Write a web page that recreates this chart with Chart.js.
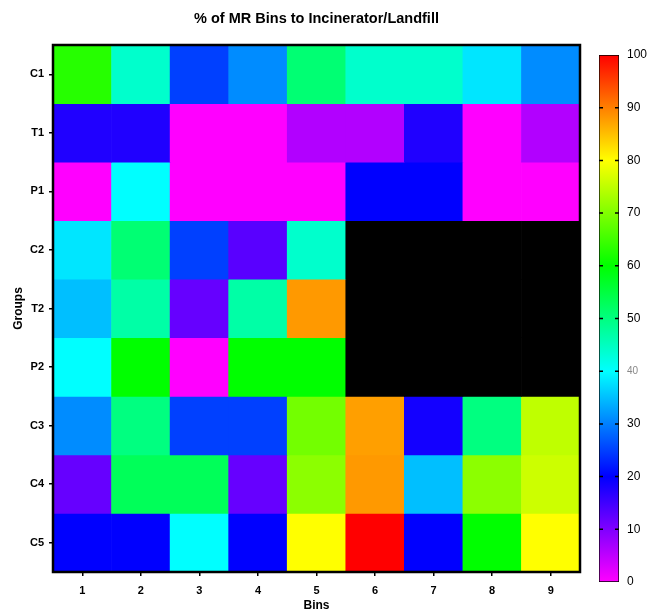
<!DOCTYPE html>
<html>
<head>
<meta charset="utf-8">
<script src="https://cdn.jsdelivr.net/npm/chart.js@4"></script>
<style>
  body { margin: 0; background: #fff; }
  #wrap { position: relative; width: 649px; height: 612px; }
  #heat { position: absolute; left: 0; top: 0; }
  #scale { position: absolute; left: 590px; top: 0; }
</style>
</head>
<body>
<div id="wrap">
  <canvas id="heat" width="633" height="612"></canvas>
  <canvas id="scale" width="59" height="612"></canvas>
</div>
<script>
const bins = ["1", "2", "3", "4", "5", "6", "7", "8", "9"];
const groups = ["C1", "T1", "P1", "C2", "T2", "P2", "C3", "C4", "C5"];

// % per bin, null = no data (drawn black)
const c1 = [63, 44, 25, 31, 51, 44, 44, 38, 31];
const t1 = [17.5, 17.5, 0, 0, 6, 6, 17.5, 0, 6];
const p1 = [0, 40, 0, 0, 0, 20, 20, 0, 0];
const c2 = [38, 51, 25, 13, 44, null, null, null, null];
const t2 = [35, 47, 12, 47, 88, null, null, null, null];
const p2 = [40, 60, 0, 60, 60, null, null, null, null];
const c3 = [31, 50, 25, 25, 69, 87.5, 18.5, 50, 75];
const c4 = [12, 53, 53, 12, 71, 88, 35, 71, 76];
const c5 = [20, 20, 40, 20, 80, 100, 20, 60, 80];
const rows = [c1, t1, p1, c2, t2, p2, c3, c4, c5];

const scaleTicks = [0, 10, 20, 30, 40, 50, 60, 70, 80, 90, 100];

const FONT = "'Liberation Sans', Arial, sans-serif";

function valueColor(v) {
  if (v === null) return "#000000";
  const hue = 300 - 3 * Math.max(0, Math.min(100, v));
  return "hsl(" + hue + ", 100%, 50%)";
}

const plotFrame = {
  id: "plotFrame",
  afterDatasetsDraw(chart) {
    const { ctx, chartArea: a } = chart;
    ctx.save();
    ctx.strokeStyle = "#000";
    ctx.lineWidth = 2.5;
    ctx.strokeRect(a.left, a.top, a.right - a.left, a.bottom - a.top);
    ctx.restore();
  },
};

new Chart(document.getElementById("heat"), {
  type: "bar",
  data: {
    labels: bins,
    datasets: rows.map((row, i) => ({
      label: groups[i],
      data: row.map(() => [i + 0.5, i + 1.5]),
      backgroundColor: row.map(valueColor),
      borderWidth: 0,
      grouped: false,
      barPercentage: 1,
      categoryPercentage: 1,
    })),
  },
  options: {
    responsive: false,
    animation: false,
    layout: { padding: 0 },
    plugins: {
      legend: { display: false },
      tooltip: { enabled: false },
      title: {
        display: true,
        text: "% of MR Bins to Incinerator/Landfill",
        color: "#000",
        font: { family: FONT, size: 14.5, weight: "bold" },
        padding: { top: 10, bottom: 17.6 },
      },
    },
    scales: {
      x: {
        grid: { drawOnChartArea: false, offset: false, tickLength: 4, color: "#000", lineWidth: 1.5 },
        border: { display: true, color: "#000", width: 2 },
        ticks: { color: "#000", padding: 8, font: { family: FONT, size: 11, weight: "bold" } },
        title: {
          display: true,
          text: "Bins",
          color: "#000",
          font: { family: FONT, size: 12, weight: "bold" },
          padding: { top: 0, bottom: -1 },
        },
        afterFit(scale) { scale.height = 40; },
      },
      y: {
        type: "linear",
        reverse: true,
        min: 0.5,
        max: 9.5,
        afterBuildTicks(scale) {
          scale.ticks = groups.map((g, i) => ({ value: i + 1 }));
        },
        grid: { drawOnChartArea: false, tickLength: 4, color: "#000", lineWidth: 1.5 },
        border: { display: true, color: "#000", width: 2 },
        ticks: {
          color: "#000",
          padding: 5,
          font: { family: FONT, size: 11, weight: "bold" },
          callback: (v) => groups[Math.round(v) - 1],
        },
        title: {
          display: true,
          text: "Groups",
          color: "#000",
          font: { family: FONT, size: 12, weight: "bold" },
          padding: { top: 11, bottom: 0 },
        },
        afterFit(scale) { scale.width = 53; },
      },
      // empty right axis keeps room for the colour bar so the title stays centred
      spacer: {
        type: "linear",
        position: "right",
        grid: { display: false, drawTicks: false },
        border: { display: false },
        ticks: { display: false },
        afterFit(scale) { scale.width = 53; },
      },
    },
  },
  plugins: [plotFrame],
});

const barDashes = {
  id: "barDashes",
  afterDatasetsDraw(chart) {
    const { ctx, chartArea: a, scales } = chart;
    ctx.save();
    ctx.strokeStyle = "#000";
    ctx.lineWidth = 1.5;
    scaleTicks.slice(1, -1).forEach((t) => {
      const y = scales.y.getPixelForValue(t);
      ctx.beginPath();
      ctx.moveTo(a.left, y);
      ctx.lineTo(a.left + 4, y);
      ctx.moveTo(a.right - 4, y);
      ctx.lineTo(a.right, y);
      ctx.stroke();
    });
    ctx.restore();
  },
};

new Chart(document.getElementById("scale"), {
  type: "bar",
  data: {
    labels: [""],
    datasets: [{
      data: [[scaleTicks[0], scaleTicks[scaleTicks.length - 1]]],
      backgroundColor(context) {
        const { chart } = context;
        const { ctx, scales, chartArea } = chart;
        if (!chartArea) return "#fff";
        const y0 = scales.y.getPixelForValue(0);
        const y1 = scales.y.getPixelForValue(100);
        const g = ctx.createLinearGradient(0, y0, 0, y1);
        [0, 20, 40, 60, 80, 100].forEach((v) => g.addColorStop(v / 100, valueColor(v)));
        return g;
      },
      borderColor: "#000",
      borderWidth: 1,
      borderSkipped: false,
      barPercentage: 1,
      categoryPercentage: 1,
    }],
  },
  options: {
    responsive: false,
    animation: false,
    layout: { padding: { left: 9, top: 55, bottom: 30, right: 0 } },
    plugins: { legend: { display: false }, tooltip: { enabled: false } },
    scales: {
      x: { display: false },
      y: {
        position: "right",
        min: 0,
        max: 100,
        afterBuildTicks(scale) {
          scale.ticks = scaleTicks.map((v) => ({ value: v }));
        },
        grid: { display: false, drawTicks: false },
        border: { display: false },
        ticks: {
          padding: 8,
          color: (c) => (c.tick && c.tick.value === 40 ? "#888" : "#000"),
          font: (c) => ({ family: FONT, size: c.tick && c.tick.value === 40 ? 10 : 12 }),
        },
        afterFit(scale) { scale.width = 30; },
      },
    },
  },
  plugins: [barDashes],
});
</script>
</body>
</html>
